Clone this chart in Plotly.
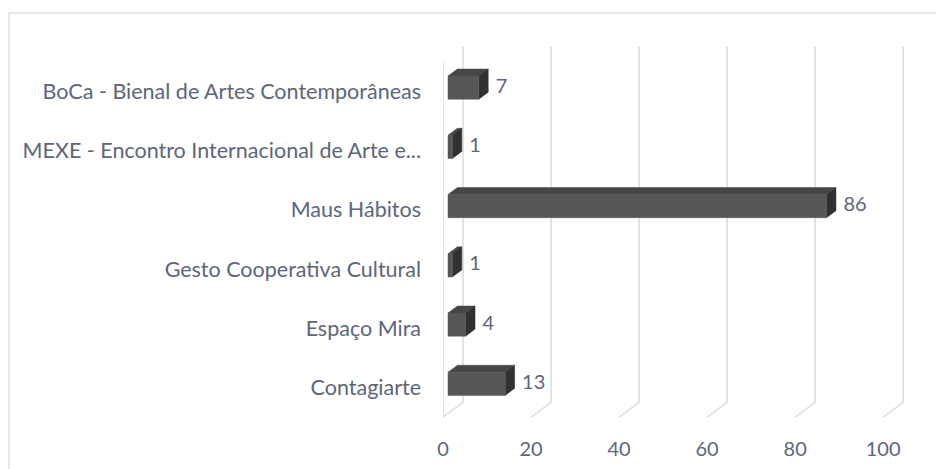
import plotly.graph_objects as go

# ---- data (bottom to top as drawn) ----
categories = [
    "Contagiarte",
    "Espaço Mira",
    "Gesto Cooperativa Cultural",
    "Maus Hábitos",
    "MEXE - Encontro Internacional de Arte e...",
    "BoCa - Bienal de Artes Contemporâneas",
]
values = [13, 4, 1, 86, 1, 7]
x_ticks = [0, 20, 40, 60, 80, 100]

# ---- 3D look parameters (axis units) ----
DX = 4.55      # depth offset along value axis
DY = 0.253     # depth offset along category axis
D0, D1 = 0.25, 0.72   # bar front/back depth fractions
H = 0.195      # half bar height

TEXT = "#5c667a"
GRID = "#d6dbe4"
FONT = "Lato"

fig = go.Figure()

# gridlines: back plane verticals + floor diagonals + wall front edge
gx, gy = [], []
for t in x_ticks:
    gx += [t + DX, t + DX, None, t, t + DX, None]
    gy += [-0.5 + DY, len(categories) - 0.5 + DY, None, -0.5, -0.5 + DY, None]
gx += [0, 0, None]
gy += [-0.5, len(categories) - 0.5, None]
fig.add_trace(go.Scatter(x=gx, y=gy, mode="lines", line=dict(color=GRID, width=1.5),
                         hoverinfo="skip", showlegend=False))

fx, fy, tx, ty, sx, sy = [], [], [], [], [], []
for i, v in enumerate(values):
    x0f, x1f = D0 * DX, v + D0 * DX
    x0b, x1b = D1 * DX, v + D1 * DX
    ybf, ytf = i - H + D0 * DY, i + H + D0 * DY
    ybb, ytb = i - H + D1 * DY, i + H + D1 * DY
    fx += [x0f, x1f, x1f, x0f, x0f, None]
    fy += [ybf, ybf, ytf, ytf, ybf, None]
    tx += [x0f, x1f, x1b, x0b, x0f, None]
    ty += [ytf, ytf, ytb, ytb, ytf, None]
    sx += [x1f, x1b, x1b, x1f, x1f, None]
    sy += [ybf, ybb, ytb, ytf, ybf, None]

for xs, ys, col in [(tx, ty, "#464646"), (sx, sy, "#303030"), (fx, fy, "#565656")]:
    fig.add_trace(go.Scatter(x=xs, y=ys, mode="lines", fill="toself", fillcolor=col,
                             line=dict(color=col, width=0.5), hoverinfo="skip",
                             showlegend=False))

# data labels
fig.add_trace(go.Scatter(
    x=[v + D1 * DX + 1.7 for v in values],
    y=[i + D0 * DY for i in range(len(values))],
    mode="text", text=[str(v) for v in values], textposition="middle right",
    textfont=dict(family=FONT, size=20, color=TEXT), hoverinfo="skip", showlegend=False))

fig.update_layout(
    width=944, height=469,
    margin=dict(l=435, r=42, t=36, b=42),
    paper_bgcolor="white", plot_bgcolor="white",
    font=dict(family=FONT, size=20, color=TEXT),
    xaxis=dict(range=[0, 106.1], tickvals=x_ticks, showgrid=False, zeroline=False,
               showline=False, ticks="", fixedrange=True,
               tickfont=dict(family=FONT, size=20, color=TEXT)),
    yaxis=dict(range=[-0.8, 5.8], tickvals=list(range(len(categories))), ticktext=categories,
               showgrid=False, zeroline=False, showline=False, ticks="", fixedrange=True,
               ticklabelstandoff=21,
               tickfont=dict(family=FONT, size=21.5, color=TEXT)),
    shapes=[dict(type="rect", xref="paper", yref="paper",
                 x0=(9 - 443) / 467, x1=1 + 45 / 467,
                 y0=-45 / 390.8, y1=1 + 31 / 390.8,
                 line=dict(color="#dde1e8", width=1.5), layer="below")],
)

fig.write_html("out.html")
